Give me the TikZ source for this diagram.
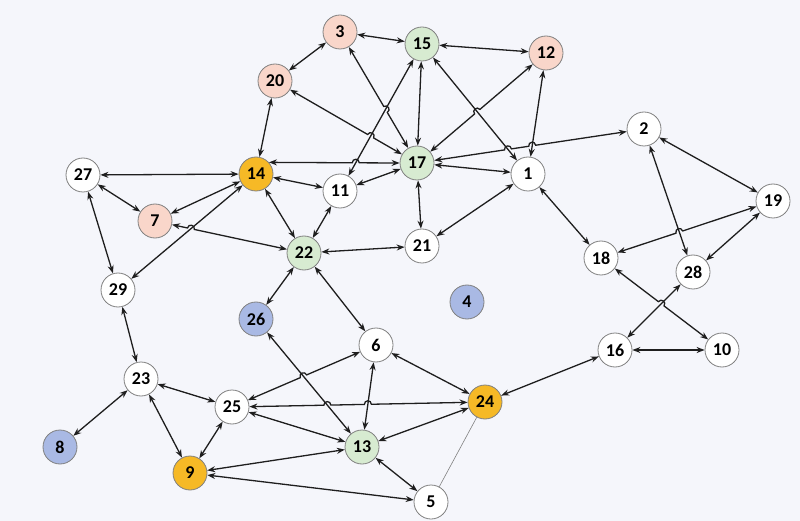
\documentclass[tikz,border=0pt]{standalone}
\usepackage{fontspec}
\setmainfont{Carlito}
\usetikzlibrary{arrows.meta,calc}
\definecolor{bgc}{HTML}{F5F6FB}
\definecolor{pinkc}{HTML}{F9D6CA}
\definecolor{greenc}{HTML}{D7EBD1}
\definecolor{orangec}{HTML}{F6B926}
\definecolor{bluec}{HTML}{A9B9E4}
\definecolor{edgec}{HTML}{1E1E1E}
\definecolor{bordc}{HTML}{808080}
\tikzset{
  nd/.style={circle, draw=bordc, line width=0.8pt, fill=white, minimum size=34pt, inner sep=0pt,
    font=\fontsize{18}{18}\selectfont\bfseries, text=black},
  pk/.style={nd, fill=pinkc},
  gr/.style={nd, fill=greenc},
  og/.style={nd, fill=orangec},
  bl/.style={nd, fill=bluec},
  ed/.style={draw=edgec, line width=1.3pt, {Stealth[length=8pt,width=6pt]}-{Stealth[length=8pt,width=6pt]}},
  thin edge/.style={draw=gray, line width=0.6pt}
}
% edge #1--#2 with a hop over line #3--#4; #5/#6 = perpendicular angles
\newcommand\hopedge[6]{%
  \coordinate (hx) at (intersection of #1--#2 and #3--#4);
  \coordinate (hp1) at ($(hx)!3.5pt!(#1)$);
  \coordinate (hp2) at ($(hx)!3.5pt!(#2)$);
  \draw[ed] (#1) -- (hp1) .. controls ($(hp1)!4.7pt!#5:(hp2)$) and ($(hp2)!4.7pt!#6:(hp1)$) .. (hp2) -- (#2);
}
% edge #1--#2 with hops over #3--#4 then #5--#6; #7/#8 angles
\newcommand\hoptwo[8]{%
  \coordinate (hx) at (intersection of #1--#2 and #3--#4);
  \coordinate (hy) at (intersection of #1--#2 and #5--#6);
  \coordinate (hp1) at ($(hx)!3.5pt!(#1)$);
  \coordinate (hp2) at ($(hx)!3.5pt!(#2)$);
  \coordinate (hq1) at ($(hy)!3.5pt!(#1)$);
  \coordinate (hq2) at ($(hy)!3.5pt!(#2)$);
  \draw[ed] (#1) -- (hp1) .. controls ($(hp1)!4.7pt!#7:(hp2)$) and ($(hp2)!4.7pt!#8:(hp1)$) .. (hp2)
    -- (hq1) .. controls ($(hq1)!4.7pt!#7:(hq2)$) and ($(hq2)!4.7pt!#8:(hq1)$) .. (hq2) -- (#2);
}
\begin{document}
\begin{tikzpicture}[x=1pt,y=-1pt]
\fill[bgc] (0,0) rectangle (800,521);
\useasboundingbox (0,0) rectangle (800,521);
\node[pk] (n3) at (340,32) {3};
\node[gr] (n15) at (422,44) {15};
\node[pk] (n12) at (546,53) {12};
\node[pk] (n20) at (275,81) {20};
\node[nd] (n2) at (644,129) {2};
\node[nd] (n27) at (83,175) {27};
\node[og] (n14) at (256,174) {14};
\node[gr] (n17) at (417,163) {17};
\node[nd] (n1) at (528,174) {1};
\node[nd] (n11) at (340,191) {11};
\node[nd] (n19) at (773,201) {19};
\node[pk] (n7) at (155,221) {7};
\node[gr] (n22) at (304,253) {22};
\node[nd] (n21) at (422,246) {21};
\node[nd] (n18) at (601,258) {18};
\node[nd] (n28) at (693,272) {28};
\node[nd] (n29) at (118,290) {29};
\node[bl] (n4) at (467,302) {4};
\node[bl] (n26) at (256,319) {26};
\node[nd] (n6) at (376,345) {6};
\node[nd] (n16) at (615,350) {16};
\node[nd] (n10) at (722,350) {10};
\node[nd] (n23) at (141,379) {23};
\node[nd] (n25) at (232,407) {25};
\node[og] (n24) at (485,402) {24};
\node[gr] (n13) at (362,447) {13};
\node[bl] (n8) at (60,447) {8};
\node[og] (n9) at (190,473) {9};
\node[nd] (n5) at (431,502) {5};

\draw[thin edge] (n24) -- (n5);
\foreach \a/\b in {n3/n15, n3/n20, n15/n12, n15/n17, n15/n1, n15/n11,
  n12/n1, n20/n14, n2/n19, n2/n28,
  n27/n14, n27/n7, n27/n29, n14/n7, n14/n11, n14/n22, n14/n29,
  n17/n1, n17/n11, n17/n21, n1/n21, n1/n18, n11/n22,
  n22/n21, n22/n26, n22/n6, n19/n28, 
  n28/n16, n16/n10, n16/n24, n29/n23, n23/n8, n23/n25, n23/n9,
  n26/n13, n6/n13, n6/n24, n25/n13, n25/n9,
  n24/n13, n13/n9, n13/n5, n9/n5}
  \draw[ed] (\a) -- (\b);
\hopedge{n14.42}{n17.west}{n15}{n11}{90}{-90}
\hopedge{n20}{n17}{n15}{n11}{90}{-90}
\hopedge{n3}{n17}{n15}{n11}{90}{-90}
\hopedge{n17}{n12}{n15}{n1}{90}{-90}
\hoptwo{n17}{n2}{n15}{n1}{n12}{n1}{90}{-90}
\hopedge{n7}{n22}{n14}{n29}{90}{-90}
\hopedge{n18}{n19}{n2}{n28}{90}{-90}
\hopedge{n18}{n10}{n28}{n16}{90}{-90}
\hopedge{n25}{n6}{n26}{n13}{90}{-90}
\hoptwo{n25}{n24}{n26}{n13}{n6}{n13}{90}{-90}
\end{tikzpicture}
\end{document}
